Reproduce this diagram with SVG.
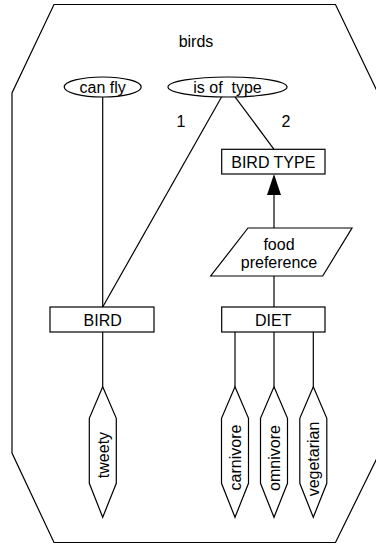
<svg xmlns="http://www.w3.org/2000/svg" width="376" height="545" viewBox="0 0 376 545">
  <style>
    .ln { fill: none; stroke: #000; stroke-width: 1.2; }
    .sh { fill: #fff; stroke: #000; stroke-width: 1.2; }
    text { font-family: "Liberation Sans", Arial, sans-serif; font-size: 16px; fill: #000; text-anchor: middle; }
  </style>

  <!-- outer context boundary -->
  <g id="birds">
    <polygon class="ln" points="54,4.5 335.5,4.5 378,93 378,456 335.5,542.5 54,542.5 12,453 12,93"/>
    <text x="196" y="47">birds</text>
  </g>

  <!-- connectors -->
  <g id="connectors">
    <line class="ln" x1="102.7" y1="97" x2="102.7" y2="307"/>
    <line class="ln" x1="221.7" y1="96.8" x2="102.7" y2="307"/>
    <line class="ln" x1="235" y1="96.8" x2="274" y2="149.3"/>
    <line class="ln" x1="274" y1="228" x2="274" y2="195"/>
    <polygon points="274,174 281,195 267,195" fill="#000"/>
    <line class="ln" x1="274" y1="276" x2="274" y2="307"/>
    <line class="ln" x1="102.7" y1="332" x2="102.7" y2="386.7"/>
    <line class="ln" x1="235" y1="332" x2="235" y2="386.7"/>
    <line class="ln" x1="274" y1="332" x2="274" y2="386.7"/>
    <line class="ln" x1="313.3" y1="332" x2="313.3" y2="386.7"/>
    <text x="181" y="126.5">1</text>
    <text x="286" y="126.5">2</text>
  </g>

  <g id="can-fly">
    <ellipse class="sh" cx="102.7" cy="87" rx="38.5" ry="10"/>
    <text x="102.7" y="92.5">can fly</text>
  </g>

  <g id="is-of-type">
    <ellipse class="sh" cx="227.5" cy="87" rx="59.5" ry="10"/>
    <text x="227.5" y="92.5" xml:space="preserve">is of  type</text>
  </g>

  <g id="bird-type">
    <rect class="sh" x="221.7" y="149.3" width="103.3" height="24.7"/>
    <text x="273.3" y="168">BIRD TYPE</text>
  </g>

  <g id="food-preference">
    <polygon class="sh" points="248,228 352,228 322.7,276 210.7,276"/>
    <text x="279" y="250">food</text>
    <text x="279" y="267.5">preference</text>
  </g>

  <g id="bird">
    <rect class="sh" x="50" y="307" width="104" height="25"/>
    <text x="102.7" y="326">BIRD</text>
  </g>

  <g id="diet">
    <rect class="sh" x="221.7" y="307" width="103.3" height="25"/>
    <text x="273.3" y="326">DIET</text>
  </g>

  <g id="tweety">
    <polygon class="sh" points="102.7,386.7 116.3,418.3 116.3,483.3 102.7,517.3 89.3,483.3 89.3,418.3"/>
    <text transform="translate(102.7,455) rotate(-90)" y="5.8">tweety</text>
  </g>

  <g id="carnivore">
    <polygon class="sh" points="235,386.7 248.5,418.3 248.5,483.3 235,517.3 221.5,483.3 221.5,418.3"/>
    <text transform="translate(235,457.5) rotate(-90)" y="5.8">carnivore</text>
  </g>

  <g id="omnivore">
    <polygon class="sh" points="274,386.7 287.5,418.3 287.5,483.3 274,517.3 260.5,483.3 260.5,418.3"/>
    <text transform="translate(274,458) rotate(-90)" y="5.8">omnivore</text>
  </g>

  <g id="vegetarian">
    <polygon class="sh" points="313.3,386.7 326.8,418.3 326.8,483.3 313.3,517.3 299.8,483.3 299.8,418.3"/>
    <text transform="translate(313.3,459) rotate(-90)" y="5.8">vegetarian</text>
  </g>
</svg>
